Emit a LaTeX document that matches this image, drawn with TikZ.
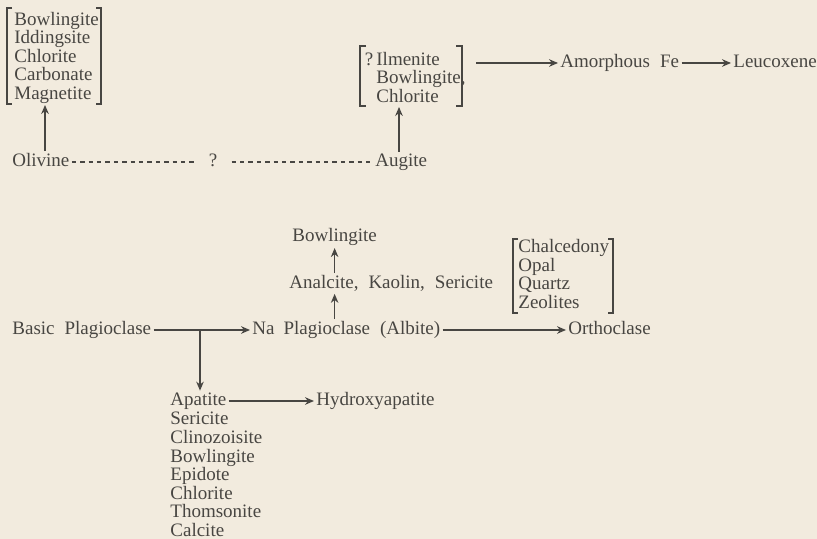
\documentclass[tikz,border=0pt]{standalone}
\usepackage{fontspec}
\setmainfont[WordSpace=2.1]{Liberation Serif}
\usetikzlibrary{arrows.meta}

\definecolor{paper}{RGB}{242,235,222}
\definecolor{ink}{RGB}{72,70,66}

\tikzset{
  txt/.style={inner sep=1pt, anchor=mid west, text=ink, align=left,
    font=\fontsize{9.5}{9.3}\selectfont},
  arr/.style={draw=ink, line width=0.55pt, -{Stealth[length=4.5pt,width=3.8pt]}},
  brk/.style={draw=ink, line width=0.65pt},
  dots/.style={draw=ink, line width=0.6pt, dash pattern=on 2.2pt off 2pt}
}

\begin{document}
\begin{tikzpicture}[x=0.5pt,y=-0.5pt]
% paper first
\fill[paper] (0,0) rectangle (817,539);
\useasboundingbox (0,0) rectangle (817,539);

% olivine ... augite
\node[txt] (olivine) at (10,162) {Olivine};
\node[txt, anchor=mid, inner xsep=7pt] (q) at (213,162) {?};
\node[txt] (augite) at (373,162) {Augite};
\draw[dots] (olivine.mid east) -- (q.mid west)
            (q.mid east) -- (augite.mid west);

% what olivine turns into (placed by its last line)
\node[txt] (olalt) at (12,95) {Bowlingite\\Iddingsite\\Chlorite\\Carbonate\\Magnetite};
\draw[brk] (12,8) -| (7,104) -- (12,104)
           (96,8) -| (101,104) -- (96,104);
\coordinate (olbr) at (45,105);
\draw[arr] (olivine.north -| olbr) -- (olbr);

% what augite turns into
\node[txt] (aualt) at (374,98) {\llap{?\,}Ilmenite\\Bowlingite,\\Chlorite};
\draw[brk] (366,46) -| (360,106) -- (366,106)
           (456,46) -| (462,106) -- (456,106);
\coordinate (aubr) at (399,107);
\draw[arr] (augite.north -| aubr) -- (aubr);

\coordinate (auout) at (476,63);
\node[txt] (amorph) at (558,63) {Amorphous Fe};
\node[txt] (leuco) at (731,63) {Leucoxene};
\draw[arr] (auout) -- (amorph.mid west);
\draw[arr] (amorph.mid east) -- (leuco.mid west);

% plagioclase
\node[txt] (basic) at (10,330) {Basic Plagioclase};
\node[txt] (nap) at (250,330) {Na\hspace{4.5pt}Plagioclase (Albite)};
\node[txt] (orth) at (566,330) {Orthoclase};
\draw[arr] (basic.mid east) -- (nap.mid west);
\draw[arr] (nap.mid east) -- (orth.mid west);

\node[txt] (analc) at (287,284) {Analcite, Kaolin, Sericite};
\node[txt] (bowl) at (290,237) {Bowlingite};
\draw[arr] (nap.north -| bowl) -- (analc.south -| bowl);
\draw[arr] (analc.north -| bowl) -- (bowl);

\node[txt] (silica) at (516,304) {Chalcedony\\Opal\\Quartz\\Zeolites};
\draw[brk] (518,239) -| (513,313) -- (518,313)
           (608,239) -| (613,313) -- (608,313);

% basic plagioclase breaks down
\coordinate (split) at (200,330);
\node[txt] (apat) at (168,401) {Apatite};
\node[txt] (apalt) at (168,532) {Sericite\\Clinozoisite\\Bowlingite\\Epidote\\Chlorite\\Thomsonite\\Calcite};
\node[txt] (hydro) at (314,401) {Hydroxyapatite};
\draw[arr] (split) -- (split |- apat.north);
\draw[arr] (apat.mid east) -- (hydro.mid west);
\end{tikzpicture}
\end{document}
